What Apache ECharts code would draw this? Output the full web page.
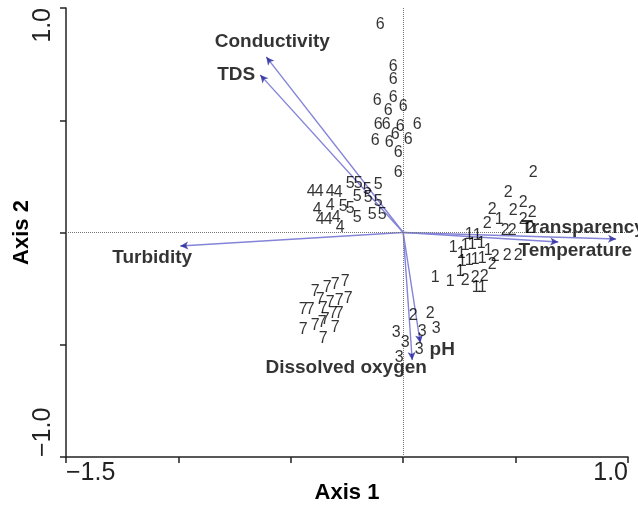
<!DOCTYPE html>
<html>
<head>
<meta charset="utf-8">
<script src="https://cdn.jsdelivr.net/npm/echarts@6/dist/echarts.min.js"></script>
<style>
  html, body { margin: 0; padding: 0; background: #fff; }
  #chart { width: 638px; height: 512px; }
</style>
</head>
<body>
<div id="chart"></div>
<script>
// site scores, one array per group (Axis 1, Axis 2)
const group1 = [[0.294, -0.011], [0.329, -0.016], [0.427, 0.056], [0.222, -0.069], [0.276, -0.06], [0.307, -0.056],
  [0.347, -0.051], [0.378, -0.082], [0.258, -0.096], [0.262, -0.131], [0.294, -0.127], [0.32, -0.122],
  [0.351, -0.118], [0.254, -0.176], [0.142, -0.203], [0.209, -0.22], [0.325, -0.247], [0.351, -0.247]]
const group2 = [[0.578, 0.269], [0.467, 0.176], [0.534, 0.131], [0.396, 0.1], [0.489, 0.096], [0.574, 0.087],
  [0.374, 0.038], [0.534, 0.056], [0.454, 0.007], [0.485, 0.007], [0.565, 0.016], [0.409, -0.109],
  [0.463, -0.105], [0.512, -0.105], [0.396, -0.145], [0.276, -0.212], [0.32, -0.203], [0.36, -0.198],
  [0.044, -0.372], [0.12, -0.363]]
const group3 = [[-0.031, -0.448], [0.009, -0.492], [0.085, -0.443], [0.147, -0.43], [0.071, -0.523], [-0.018, -0.555]]
const group4 = [[-0.409, 0.18], [-0.374, 0.18], [-0.325, 0.18], [-0.289, 0.176], [-0.383, 0.1], [-0.325, 0.122],
  [-0.369, 0.056], [-0.334, 0.056], [-0.298, 0.065], [-0.28, 0.02]]
const group5 = [[-0.236, 0.22], [-0.2, 0.22], [-0.16, 0.189], [-0.111, 0.212], [-0.205, 0.158], [-0.156, 0.154],
  [-0.111, 0.136], [-0.267, 0.114], [-0.236, 0.105], [-0.205, 0.065], [-0.138, 0.078], [-0.093, 0.078]]
const group6 = [[-0.102, 0.924], [-0.044, 0.737], [-0.044, 0.679], [-0.116, 0.586], [-0.044, 0.599], [-0.067, 0.541],
  [0.0, 0.559], [-0.111, 0.479], [-0.076, 0.479], [-0.013, 0.47], [0.062, 0.479], [-0.125, 0.408],
  [-0.062, 0.399], [-0.036, 0.434], [0.022, 0.412], [-0.022, 0.354], [-0.022, 0.269]]
const group7 = [[-0.391, -0.265], [-0.338, -0.247], [-0.302, -0.234], [-0.258, -0.22], [-0.369, -0.301], [-0.325, -0.31],
  [-0.285, -0.305], [-0.245, -0.296], [-0.445, -0.345], [-0.414, -0.345], [-0.356, -0.341], [-0.311, -0.359],
  [-0.285, -0.359], [-0.445, -0.434], [-0.391, -0.416], [-0.36, -0.403], [-0.347, -0.39], [-0.302, -0.425],
  [-0.356, -0.474]]
const groupNames = ['1', '2', '3', '4', '5', '6', '7']
const groups = [group1, group2, group3, group4, group5, group6, group7]

// environmental vectors
const varNames = ['Conductivity', 'TDS', 'Turbidity', 'Transparency', 'Temperature', 'pH', 'Dissolved oxygen']
const varX = [-0.609, -0.636, -0.992, 0.947, 0.69, 0.076, 0.04]
const varY = [0.782, 0.702, -0.06, -0.029, -0.042, -0.492, -0.568]

const xTickLabels = ['\u22121.5', '', '', '', '', '1.0']
const yTickLabels = ['\u22121.0', '', '', '', '1.0']

// label offsets (px) from arrow tips
const varLabelOffsets = [[6, -15], [-24, 0], [-28, 12], [-33, -11], [17, 9], [22, 7], [-66, 8]]

const font = 'Liberation Sans, Arial, sans-serif'
const myChart = echarts.init(document.getElementById('chart'))

const groupSeries = groups.map((g, i) => ({
  name: groupNames[i],
  type: 'scatter',
  data: g,
  symbolSize: 1,
  itemStyle: { color: 'rgba(0,0,0,0)' },
  label: {
    show: true,
    position: 'inside',
    formatter: groupNames[i],
    fontSize: 16,
    fontFamily: font,
    color: '#000'
  },
  z: 5
}))

myChart.setOption({
  animation: false,
  grid: { left: 66, right: 10, top: 8, bottom: 55, outerBoundsMode: 'none' },
  xAxis: {
    type: 'value',
    min: -1.5,
    max: 1.0,
    interval: 0.5,
    name: 'Axis 1',
    nameLocation: 'middle',
    nameGap: 25,
    nameMoveOverlap: false,
    nameTextStyle: { fontSize: 22, fontWeight: 'bold', fontFamily: font, color: '#000' },
    splitLine: { show: false },
    axisLine: { onZero: false, lineStyle: { color: '#222', width: 1.5 } },
    axisTick: { length: 6, lineStyle: { color: '#222', width: 1.5 } },
    axisLabel: {
      formatter: (v, i) => xTickLabels[i] || '',
      fontSize: 25,
      fontFamily: font,
      color: '#222',
      margin: 4,
      alignMinLabel: 'left',
      alignMaxLabel: 'right'
    }
  },
  yAxis: {
    type: 'value',
    min: -1.0,
    max: 1.0,
    interval: 0.5,
    name: 'Axis 2',
    nameLocation: 'middle',
    nameRotate: 90,
    nameGap: 33,
    nameMoveOverlap: false,
    nameTextStyle: { fontSize: 22, fontWeight: 'bold', fontFamily: font, color: '#000' },
    splitLine: { show: false },
    axisLine: { onZero: false, lineStyle: { color: '#222', width: 1.5 } },
    axisTick: { length: 6, lineStyle: { color: '#222', width: 1.5 } },
    axisLabel: {
      formatter: (v, i) => yTickLabels[i] || '',
      rotate: 90,
      fontSize: 25,
      fontFamily: font,
      color: '#222',
      margin: 10,
      alignMinLabel: 'left',
      alignMaxLabel: 'right'
    }
  },
  series: [
    {
      // zero reference lines
      type: 'scatter',
      data: [],
      markLine: {
        silent: true,
        symbol: 'none',
        label: { show: false },
        lineStyle: { type: 'dotted', color: '#777', width: 1 },
        data: [{ xAxis: 0 }, { yAxis: 0 }]
      }
    },
    {
      type: 'lines',
      coordinateSystem: 'cartesian2d',
      data: varNames.map((n, i) => ({ coords: [[0, 0], [varX[i], varY[i]]] })),
      symbol: ['none', 'none'],
      lineStyle: { color: '#8484d8', width: 1.4, opacity: 1 },
      z: 3
    },
    {
      // arrow heads
      type: 'scatter',
      data: varNames.map((n, i) => [varX[i], varY[i]]),
      symbol: 'arrow',
      symbolSize: [6, 8],
      symbolRotate: v => Math.atan2(v[1], v[0]) * 180 / Math.PI - 90,
      itemStyle: { color: '#22229a' },
      z: 4
    },
    {
      // vector labels
      type: 'scatter',
      symbolSize: 1,
      itemStyle: { color: 'rgba(0,0,0,0)' },
      data: varNames.map((n, i) => ({
        value: [varX[i], varY[i]],
        name: n,
        label: { offset: varLabelOffsets[i] }
      })),
      label: {
        show: true,
        position: 'inside',
        formatter: p => p.name,
        fontSize: 19,
        fontWeight: 'bold',
        fontFamily: font,
        color: '#000'
      },
      z: 6
    }
  ].concat(groupSeries)
})
</script>
</body>
</html>
